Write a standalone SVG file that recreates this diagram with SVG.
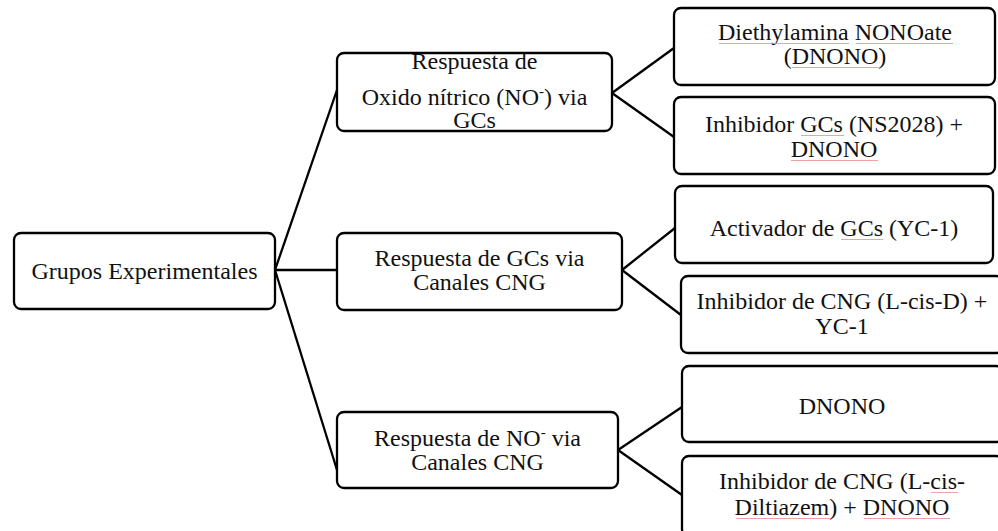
<svg xmlns="http://www.w3.org/2000/svg" width="998" height="531" viewBox="0 0 998 531">
<style>
.box{fill:#fff;stroke:#000;stroke-width:2.3}
.con{stroke:#000;stroke-width:2.3;fill:none}
.t{font-family:"Liberation Serif","Times New Roman",serif;font-size:24px;fill:#111;text-anchor:middle}
.sq{stroke:#ec8c8c;stroke-width:1;opacity:0.8}
</style>
<rect width="998" height="531" fill="#fff"/>
<g id="connectors">
<line class="con" x1="275" y1="270" x2="337" y2="90"/>
<line class="con" x1="275" y1="270" x2="337" y2="270"/>
<line class="con" x1="275" y1="270" x2="337" y2="470"/>
<line class="con" x1="612" y1="93" x2="674" y2="48"/>
<line class="con" x1="612" y1="93" x2="674" y2="137"/>
<line class="con" x1="622" y1="270" x2="675" y2="228"/>
<line class="con" x1="622" y1="270" x2="681" y2="315"/>
<line class="con" x1="618" y1="450" x2="682" y2="407"/>
<line class="con" x1="618" y1="450" x2="682" y2="495"/>
</g>
<g id="root">
<rect class="box" x="14" y="233" width="261" height="76" rx="7"/>
<text class="t" x="144.5" y="279">Grupos Experimentales</text>
</g>
<g id="no-gcs">
<rect class="box" x="337" y="53" width="275" height="78" rx="7"/>
<text class="t" x="474.5" y="69">Respuesta de</text>
<text class="t" x="474.5" y="105">Oxido nítrico (NO<tspan font-size="15" dy="-9">-</tspan><tspan dy="9">) via</tspan></text>
<text class="t" x="474.5" y="128">GCs</text>
</g>
<g id="gcs-cng">
<rect class="box" x="337" y="233" width="285" height="77" rx="7"/>
<text class="t" x="479.5" y="266">Respuesta de GCs via</text>
<text class="t" x="479.5" y="290">Canales CNG</text>
</g>
<g id="no-cng">
<rect class="box" x="337" y="412" width="281" height="76" rx="7"/>
<text class="t" x="477.5" y="446">Respuesta de NO<tspan font-size="15" dy="-9">-</tspan><tspan dy="9"> via</tspan></text>
<text class="t" x="477.5" y="470">Canales CNG</text>
</g>
<g id="dnono1">
<rect class="box" x="674" y="8" width="321" height="77" rx="7"/>
<text class="t" x="835" y="40">Diethylamina NONOate</text>
<text class="t" x="835" y="64">(DNONO)</text>
<line class="sq" x1="719" y1="43.5" x2="849" y2="43.5"/>
<line class="sq" x1="856" y1="43.5" x2="953" y2="43.5"/>
<line class="sq" x1="792" y1="67.5" x2="879" y2="67.5"/>
</g>
<g id="ns2028">
<rect class="box" x="674" y="97" width="321" height="77" rx="7"/>
<text class="t" x="834" y="132">Inhibidor GCs (NS2028) +</text>
<text class="t" x="834" y="157">DNONO</text>
<line class="sq" x1="801" y1="135.5" x2="844" y2="135.5"/>
<line class="sq" x1="791" y1="160.5" x2="878" y2="160.5"/>
</g>
<g id="yc1">
<rect class="box" x="675" y="186" width="318" height="77" rx="7"/>
<text class="t" x="834" y="236">Activador de GCs (YC-1)</text>
<line class="sq" x1="841" y1="239.5" x2="883" y2="239.5"/>
</g>
<g id="lcisd-yc1">
<rect class="box" x="681" y="276" width="322" height="77" rx="7"/>
<text class="t" x="842" y="309">Inhibidor de CNG (L-cis-D) +</text>
<text class="t" x="842" y="334">YC-1</text>
</g>
<g id="dnono2">
<rect class="box" x="682" y="366" width="321" height="76" rx="7"/>
<text class="t" x="842" y="414">DNONO</text>
</g>
<g id="diltiazem-dnono">
<rect class="box" x="682" y="456" width="321" height="80" rx="7"/>
<text class="t" x="842" y="489">Inhibidor de CNG (L-cis-</text>
<text class="t" x="842" y="515">Diltiazem) + DNONO</text>
<line class="sq" x1="931" y1="492.5" x2="958" y2="492.5"/>
<line class="sq" x1="736" y1="518.5" x2="831" y2="518.5"/>
<line class="sq" x1="864" y1="518.5" x2="950" y2="518.5"/>
</g>
</svg>
